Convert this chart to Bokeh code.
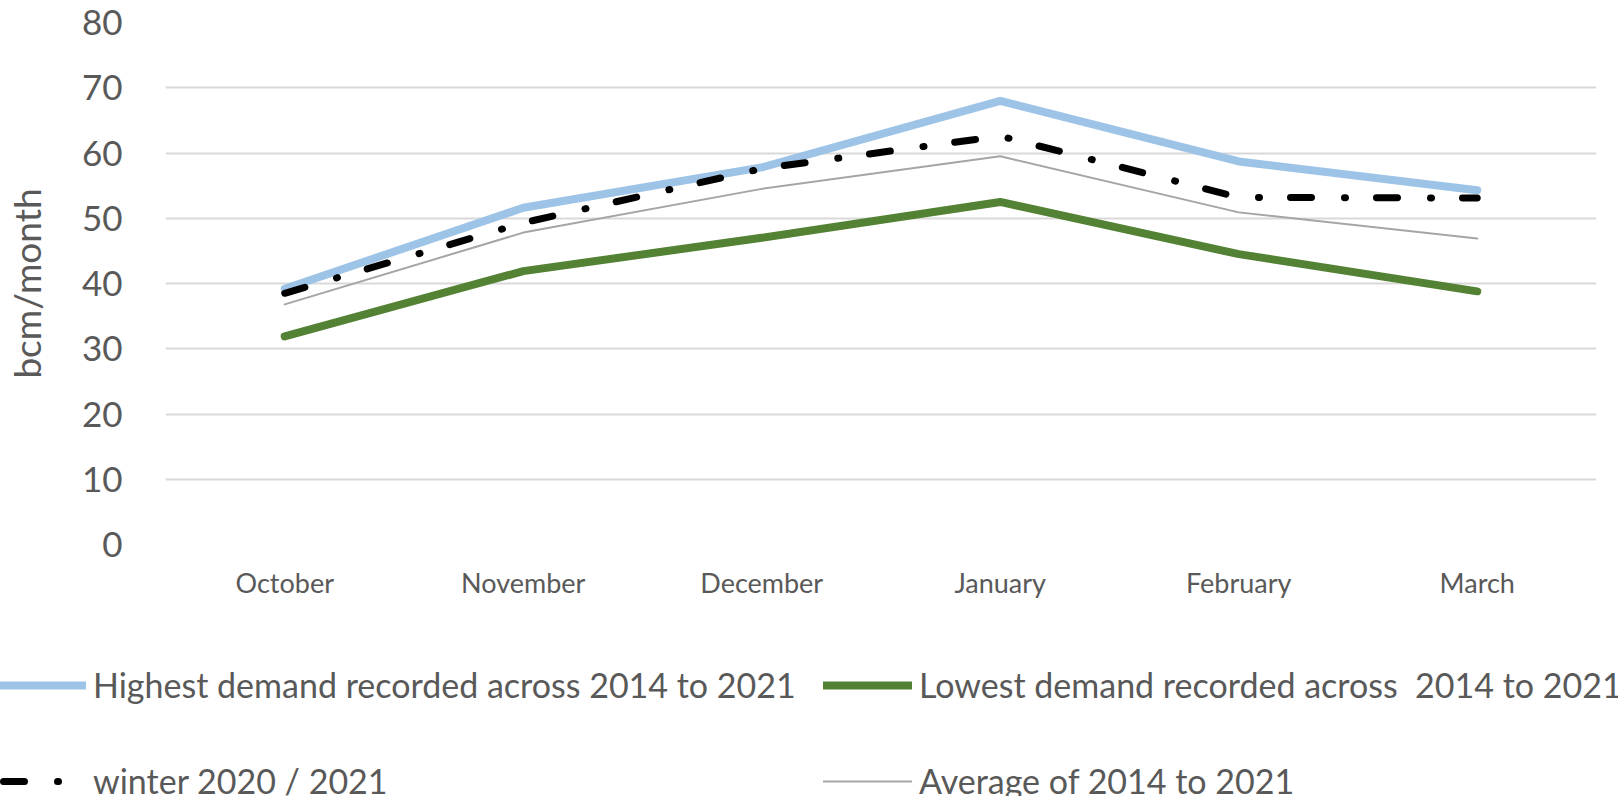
from bokeh.plotting import figure
from bokeh.layouts import column
from bokeh.models import FactorRange, Range1d, Legend, LegendItem, FixedTicker
from bokeh.embed import file_html
from bokeh.resources import INLINE

months = ["October", "November", "December", "January", "February", "March"]
highest = [39.2, 51.6, 57.8, 68.0, 58.7, 54.3]
lowest = [31.9, 41.9, 47.0, 52.5, 44.5, 38.8]
winter = [38.5, 49.3, 57.6, 62.6, 53.2, 53.1]
average = [36.8, 47.8, 54.5, 59.5, 50.9, 46.9]
y_ticks = [0, 10, 20, 30, 40, 50, 60, 70, 80]

labels = [
    "Highest demand recorded across 2014 to 2021",
    "Lowest demand recorded across  2014 to 2021",
    "winter 2020 / 2021",
    "Average of 2014 to 2021",
]

TXT = "#595959"
FONT = "Lato"
STYLES = [
    dict(line_color="#9DC3E6", line_width=8),
    dict(line_color="#548235", line_width=8),
    dict(line_color="black", line_width=7, line_dash="21 33 1 31"),
    dict(line_color="#A5A5A5", line_width=2),
]
SERIES = [highest, lowest, winter, average]

# ---------------- main chart ----------------
p = figure(x_range=FactorRange(*months), y_range=Range1d(0, 80),
           width=1618, height=620, output_backend="svg", toolbar_location=None,
           min_border_left=165, min_border_right=22, min_border_top=22,
           min_border_bottom=76)
p.frame_align = False
p.outline_line_color = None

p.xgrid.grid_line_color = None
p.ygrid.grid_line_color = "#D9D9D9"
p.ygrid.grid_line_width = 2

p.yaxis.ticker = FixedTicker(ticks=y_ticks)
p.yaxis.axis_line_color = None
p.yaxis.major_tick_line_color = None
p.yaxis.minor_tick_line_color = None
p.yaxis.major_label_text_font = FONT
p.yaxis.major_label_text_font_size = "35px"
p.yaxis.major_label_text_color = TXT
p.yaxis.major_label_standoff = 37
p.yaxis.axis_label = "bcm/month"
p.yaxis.axis_label_text_font = FONT
p.yaxis.axis_label_text_font_size = "37px"
p.yaxis.axis_label_text_font_style = "normal"
p.yaxis.axis_label_text_color = TXT
p.yaxis.axis_label_standoff = 30

p.xaxis.axis_line_color = None
p.xaxis.major_tick_line_color = None
p.xaxis.minor_tick_line_color = None
p.xaxis.major_label_text_font = FONT
p.xaxis.major_label_text_font_size = "27px"
p.xaxis.major_label_text_color = TXT
p.xaxis.major_label_standoff = 15

for ys, st in zip(SERIES, STYLES):
    p.line(months, ys, line_cap="round", line_join="round", **st)

# ---------------- legend strip ----------------
lg = figure(x_range=FactorRange(*months), y_range=Range1d(1000, 1001),
            width=1618, height=176, output_backend="svg", toolbar_location=None,
            min_border_left=0, min_border_right=0, min_border_top=0,
            min_border_bottom=0, x_axis_location=None, y_axis_location=None)
lg.frame_align = False
lg.outline_line_color = None
lg.xgrid.grid_line_color = None
lg.ygrid.grid_line_color = None

proxies = []
for ys, st in zip(SERIES, STYLES):
    extra = {"line_dash_offset": -6} if "line_dash" in st else {}
    proxies.append(lg.line(months, ys, line_cap="round", line_join="round",
                           **st, **extra))

positions = [(-3, 91), (823, 91), (-3, -5), (823, -5)]
for r, lab, loc in zip(proxies, labels, positions):
    leg = Legend(items=[LegendItem(label=lab, renderers=[r])], location=loc,
                 orientation="horizontal", padding=0, margin=0, spacing=0,
                 glyph_width=89, glyph_height=40, label_height=40,
                 label_standoff=7, label_text_font=FONT,
                 label_text_font_size="34px", label_text_color=TXT,
                 border_line_color=None, background_fill_alpha=0)
    lg.add_layout(leg)

layout = column(p, lg, spacing=0)
open("out.html", "w").write(file_html(layout, INLINE))
